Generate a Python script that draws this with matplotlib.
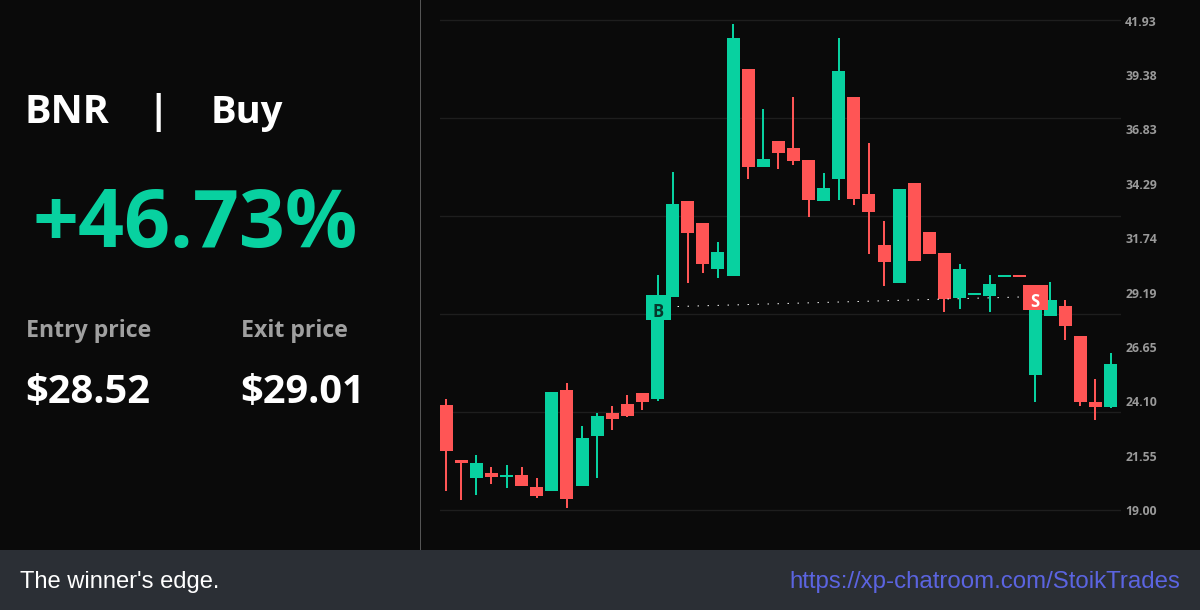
#!/usr/bin/env python3
"""BNR trade card: stats panel on the left, candles with entry/exit on the right."""
import matplotlib
matplotlib.use("Agg")
import matplotlib.pyplot as plt
from matplotlib.patches import Rectangle

W, H = 1200, 610
BG = "#0a0a0a"
GREEN = "#08d1a0"
RED = "#ff5555"

opens = [23.94, 21.36, 20.52, 20.76, 20.57, 20.66, 20.10, 19.91, 24.64, 20.15,
         22.49, 23.56, 23.98, 24.50, 24.22, 28.99, 33.48, 32.46, 30.30, 29.97,
         39.66, 35.08, 36.29, 35.96, 35.40, 33.48, 34.51, 38.35, 33.81, 31.43,
         29.65, 34.33, 32.03, 31.05, 28.95, 29.09, 29.04, 29.93, 30.02, 25.34,
         28.10, 28.57, 27.17, 24.08, 23.84]
highs = [24.22, 21.36, 21.60, 21.04, 21.13, 21.04, 20.52, 24.55, 24.97, 22.95,
         23.56, 23.89, 24.41, 24.50, 30.02, 34.84, 33.48, 32.46, 31.57, 41.77,
         39.66, 37.79, 36.29, 38.35, 35.40, 34.80, 41.11, 38.35, 36.20, 32.55,
         34.05, 34.33, 32.03, 31.05, 30.54, 29.18, 30.02, 30.02, 30.02, 29.04,
         29.69, 28.85, 27.17, 25.15, 26.37]
lows = [19.91, 19.49, 19.73, 20.24, 20.05, 20.15, 19.59, 19.91, 19.12, 20.15,
        20.52, 22.77, 23.38, 23.70, 24.12, 28.99, 29.65, 30.12, 29.88, 29.97,
        34.51, 35.08, 34.98, 35.17, 32.74, 33.48, 33.53, 33.30, 31.00, 29.51,
        29.65, 30.68, 31.00, 28.29, 28.43, 29.09, 28.29, 29.93, 29.93, 24.08,
        28.10, 26.98, 23.89, 23.24, 23.80]
closes = [21.78, 21.22, 21.22, 20.57, 20.66, 20.15, 19.68, 24.55, 19.54, 22.39,
          23.42, 23.28, 23.42, 24.08, 28.99, 33.34, 31.99, 30.54, 31.10, 41.11,
          35.08, 35.45, 35.73, 35.36, 33.53, 34.09, 39.57, 33.58, 32.97, 30.63,
          34.05, 30.68, 31.00, 28.90, 30.30, 29.18, 29.60, 30.02, 29.93, 29.04,
          28.85, 27.63, 24.08, 23.84, 25.86]

price_ticks = [41.93, 39.38, 36.83, 34.29, 31.74, 29.19, 26.65, 24.10, 21.55, 19.00]
grid_levels = [19.00, 23.59, 28.19, 32.76, 37.37, 41.96]

ticker = "BNR"
side = "Buy"
gain = "+46.73%"
entry_price = 28.52
exit_price = 29.01
entry_idx = 14
exit_idx = 39
tagline = "The winner's edge."
link = "https://xp-chatroom.com/StoikTrades"

plt.rcParams["font.family"] = ["Open Sans", "DejaVu Sans"]

fig = plt.figure(figsize=(W / 100, H / 100), dpi=100, facecolor=BG)


def put(x, y, s, **kw):
    # x, y in picture pixels, y measured from the top
    fig.text(x / W, 1 - y / H, s, va="baseline", **kw)


fig.add_artist(Rectangle((0, 0), 1, 60 / H, transform=fig.transFigure,
                         color="#2b2f35", lw=0))
fig.add_artist(Rectangle((420 / W, 60 / H), 1 / W, 550 / H,
                         transform=fig.transFigure, color="#555555", lw=0))

# chart
ax = fig.add_axes([440 / W, 60 / H, 681 / W, 550 / H], facecolor="none")
ax.set_xlim(-0.41, 44.69)
ax.set_ylim(17.15, 42.89)
for s in ax.spines.values():
    s.set_visible(False)

for lv in grid_levels:
    ax.axhline(lv, color="#1e1e1e", lw=1, zorder=1)

idx = range(len(opens))
colors = [GREEN if c >= o else RED for o, c in zip(opens, closes)]
ax.vlines(idx, lows, highs, colors=colors, lw=1.44, zorder=2)
ax.bar(idx, [abs(c - o) for o, c in zip(opens, closes)],
       bottom=[min(o, c) for o, c in zip(opens, closes)],
       width=0.86, color=colors, lw=0, zorder=3)

ax.plot([entry_idx, exit_idx], [entry_price, exit_price], color="white", lw=0.72,
        ls=(0, (1.4, 8.6)), zorder=4)
ax.plot(entry_idx, entry_price, "s", ms=18, color=GREEN, mew=0, zorder=5)
ax.plot(exit_idx, exit_price, "s", ms=18, color=RED, mew=0, zorder=5)
ax.text(entry_idx, entry_price - 0.25, "B", color="#06382c", fontsize=12,
        fontweight="bold", ha="center", va="center", zorder=6)
ax.text(exit_idx, exit_price - 0.25, "S", color="white", fontsize=12,
        fontweight="bold", ha="center", va="center", zorder=6)

ax.set_xticks([])
ax.yaxis.tick_right()
ax.set_yticks(price_ticks)
ax.set_yticklabels([f"{p:.2f}" for p in price_ticks], fontsize=8.8,
                   fontweight="bold", color="#9a9a9a")
ax.tick_params(axis="y", length=0, pad=3)

# left panel
put(25, 123, ticker, fontsize=28.5, fontweight="bold", color="white")
put(158, 123, "|", fontsize=28, fontweight="bold", color="white", ha="center")
put(211, 123, side, fontsize=27.5, fontweight="bold", color="white")
put(33, 247, gain, fontsize=58, fontweight="bold", color=GREEN)
put(26, 337, "Entry price", fontsize=16.7, fontweight="bold", color="#a0a0a0")
put(241, 337, "Exit price", fontsize=16.7, fontweight="bold", color="#a0a0a0")
put(25, 403, f"${entry_price:.2f}", fontsize=28.6, fontweight="bold", color="white")
put(240, 403, f"${exit_price:.2f}", fontsize=28.6, fontweight="bold", color="white")

# footer
put(20, 588, tagline, fontsize=17.1, family="Liberation Sans", color="white")
put(1180, 588, link, fontsize=17.3, family="Liberation Sans", color="#5b64e0", ha="right")

fig.savefig("out.png", dpi=100, facecolor=BG)
